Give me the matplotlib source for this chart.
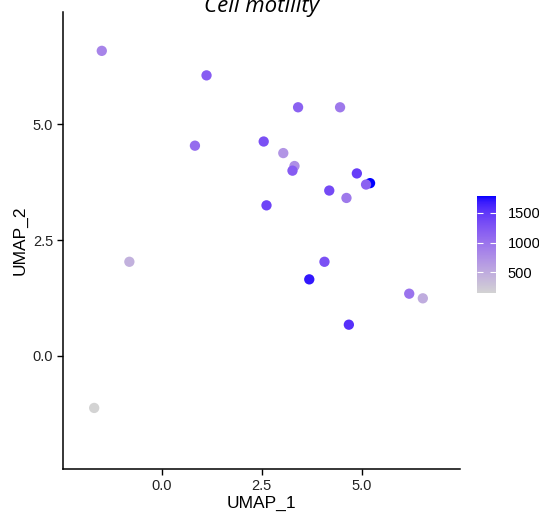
import matplotlib
matplotlib.use("Agg")
import numpy as np
import matplotlib.pyplot as plt
from matplotlib.colors import ListedColormap, Normalize
from matplotlib.cm import ScalarMappable

# UMAP coordinates and expression values
umap_1 = [-1.50, 1.12, 3.41, 4.46, 0.83, 2.55, 3.04, 3.32, 3.27, 4.88,
          5.21, 5.11, 4.19, 4.62, 2.62, -0.81, 4.07, 3.69, 6.19, 6.53,
          4.68, -1.69]
umap_2 = [6.59, 6.06, 5.37, 5.37, 4.54, 4.63, 4.38, 4.10, 4.00, 3.94,
          3.73, 3.70, 3.57, 3.41, 3.25, 2.03, 2.03, 1.65, 1.34, 1.24,
          0.67, -1.13]
expr = [850, 1200, 1150, 950, 1050, 1300, 700, 750, 1200, 1450,
        1780, 1150, 1350, 950, 1400, 450, 1300, 1700, 1000, 500,
        1550, 150]

x_ticks = [0.0, 2.5, 5.0]
y_ticks = [0.0, 2.5, 5.0]
cbar_ticks = [500, 1000, 1500]


# ggplot-style gradient: lightgrey -> blue interpolated in CIELAB
def to_lab(rgb):
    c = np.asarray(rgb, float)
    c = np.where(c > 0.04045, ((c + 0.055) / 1.055) ** 2.4, c / 12.92)
    m = np.array([[0.4124, 0.3576, 0.1805],
                  [0.2126, 0.7152, 0.0722],
                  [0.0193, 0.1192, 0.9505]])
    xyz = m @ c / np.array([0.95047, 1.0, 1.08883])
    f = np.where(xyz > 0.008856, np.cbrt(xyz), 7.787 * xyz + 16 / 116)
    return np.array([116 * f[1] - 16, 500 * (f[0] - f[1]), 200 * (f[1] - f[2])])


def from_lab(lab):
    fy = (lab[0] + 16) / 116
    fx = fy + lab[1] / 500
    fz = fy - lab[2] / 200
    f = np.array([fx, fy, fz])
    xyz = np.where(f ** 3 > 0.008856, f ** 3, (f - 16 / 116) / 7.787)
    xyz = xyz * np.array([0.95047, 1.0, 1.08883])
    mi = np.array([[3.2406, -1.5372, -0.4986],
                   [-0.9689, 1.8758, 0.0415],
                   [0.0557, -0.2040, 1.0570]])
    c = mi @ xyz
    c = np.where(c > 0.0031308, 1.055 * np.abs(c) ** (1 / 2.4) - 0.055, 12.92 * c)
    return np.clip(c, 0, 1)


lab0 = to_lab([0xD3 / 255] * 3)
lab1 = to_lab([0, 0, 1])
colors = [from_lab(lab0 + (lab1 - lab0) * t) for t in np.linspace(0, 1, 256)]
cmap = ListedColormap(colors)
norm = Normalize(vmin=min(expr), vmax=max(expr))

plt.rcParams["font.family"] = ["Liberation Sans", "DejaVu Sans"]

fig = plt.figure(figsize=(5.39, 5.15), dpi=100)
ax = fig.add_axes([63 / 539, 1 - 469 / 515, 397 / 539, 457 / 515])
ax.scatter(umap_1, umap_2, c=expr, cmap=cmap, norm=norm, s=55,
           edgecolors="none")

ax.set_xlim(-2.47, 7.46)
ax.set_ylim(-2.45, 7.43)
ax.set_xticks(x_ticks)
ax.set_yticks(y_ticks)
ax.set_xticklabels(["%.1f" % t for t in x_ticks])
ax.set_yticklabels(["%.1f" % t for t in y_ticks])
for s in ["top", "right"]:
    ax.spines[s].set_visible(False)
for s in ["left", "bottom"]:
    ax.spines[s].set_linewidth(1.1)
ax.tick_params(direction="out", length=4, width=1, labelsize=10.5,
               labelcolor="#222222", pad=3)
ax.set_xlabel("UMAP_1", fontsize=12.5, labelpad=2)
ax.set_ylabel("UMAP_2", fontsize=12.5, labelpad=4)

fig.text(261 / 539, 1 - 12 / 515, "Cell motility", ha="center",
         va="baseline", fontsize=16, style="italic", family="Open Sans")

cax = fig.add_axes([477 / 539, 1 - 293.3 / 515, 19.4 / 539, 97.3 / 515])
cb = fig.colorbar(ScalarMappable(norm=norm, cmap=cmap), cax=cax)
cb.outline.set_visible(False)
cb.set_ticks(cbar_ticks)
cax.tick_params(direction="in", length=4, width=0.8, color="white",
                left=True, right=True, labelsize=10.5, pad=8)

fig.savefig("out.png", dpi=100)
